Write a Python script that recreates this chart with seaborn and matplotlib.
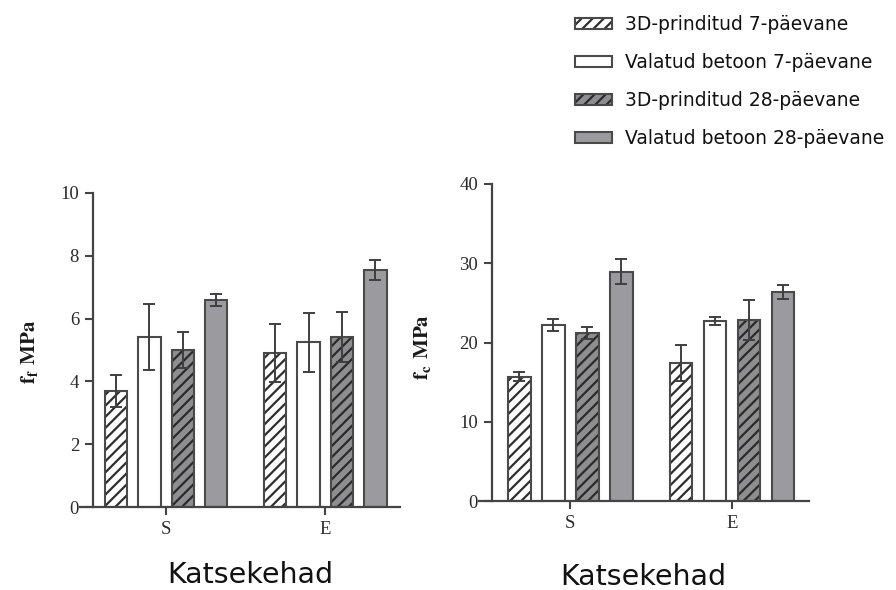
import matplotlib
matplotlib.use("Agg")
import matplotlib.pyplot as plt
import seaborn as sns
import pandas as pd

# ---- data ----
groups = ["S", "E"]
series = ["3D-prinditud 7-päevane", "Valatud betoon 7-päevane",
          "3D-prinditud 28-päevane", "Valatud betoon 28-päevane"]
ff_S = [3.70, 5.42, 5.00, 6.59]
ff_E = [4.91, 5.24, 5.42, 7.55]
ff_err_S = [0.50, 1.05, 0.58, 0.20]
ff_err_E = [0.92, 0.95, 0.80, 0.33]
fc_S = [15.7, 22.2, 21.2, 28.95]
fc_E = [17.4, 22.7, 22.8, 26.4]
fc_err_S = [0.6, 0.75, 0.7, 1.55]
fc_err_E = [2.3, 0.5, 2.5, 0.9]
ff_ticks = [0, 2, 4, 6, 8, 10]
fc_ticks = [0, 10, 20, 30, 40]
xlabel = "Katsekehad"

sns.set_style("ticks")
plt.rcParams["font.family"] = ["DejaVu Sans"]
plt.rcParams["hatch.linewidth"] = 1.6
plt.rcParams["mathtext.fontset"] = "stix"

W, H = 896, 590
fig = plt.figure(figsize=(W / 100, H / 100), dpi=100)

faces = ["#ffffff", "#ffffff", "#8e8e90", "#9b9b9f"]
hatches = ["///", "", "///", ""]
hatch_cols = ["#2e2e2e", "#2e2e2e", "#2a2a2a", "#2e2e2e"]
edge = "#4a4a4a"


def make_df(vS, vE):
    rows = []
    for g, vals in zip(groups, [vS, vE]):
        for s, v in zip(series, vals):
            rows.append({"group": g, "series": s, "value": v})
    return pd.DataFrame(rows)


def draw(ax, vS, vE, eS, eE, ticks, xlim):
    df = make_df(vS, vE)
    sns.barplot(data=df, x="group", y="value", hue="series", order=groups,
                hue_order=series, errorbar=None, width=0.84, gap=0.33,
                palette=dict(zip(series, faces)), legend=False, ax=ax)
    errs = {"S": eS, "E": eE}
    bar_conts = list(ax.containers)
    for i, cont in enumerate(bar_conts):
        for j, bar in enumerate(cont.patches):
            bar.set_facecolor(faces[i])
            bar.set_hatch(hatches[i])
            bar.set_edgecolor(edge)
            bar.set_linewidth(1.5)
            bar._hatch_color = matplotlib.colors.to_rgba(hatch_cols[i])
            xc = bar.get_x() + bar.get_width() / 2
            yv = bar.get_height()
            ax.errorbar(xc, yv, yerr=errs[groups[j]][i], fmt="none",
                        ecolor="#3f3f3f", elinewidth=1.4, capsize=4,
                        capthick=1.4, zorder=5)
    ax.set_ylim(ticks[0], ticks[-1])
    ax.set_yticks(ticks)
    ax.set_xlim(*xlim)
    ax.set_xlabel("")
    ax.set_ylabel("")
    for side in ["top", "right"]:
        ax.spines[side].set_visible(False)
    for side in ["left", "bottom"]:
        ax.spines[side].set_color("#444444")
        ax.spines[side].set_linewidth(1.6)
    ax.spines["bottom"].set_bounds(xlim[0] - 0.08, xlim[1])
    ax.tick_params(axis="both", length=6, width=1.5, color="#444444",
                   labelcolor="#2a2a2a", labelsize=13.5, pad=4)
    for lab in ax.get_xticklabels() + ax.get_yticklabels():
        lab.set_fontfamily("Liberation Serif")
    return bar_conts


ax1 = fig.add_axes([93 / W, 1 - 507 / H, (400 - 93) / W, (507 - 193) / H])
conts = draw(ax1, ff_S, ff_E, ff_err_S, ff_err_E, ff_ticks, (-0.46, 1.47))
ax2 = fig.add_axes([492 / W, 1 - 501 / H, (809 - 492) / W, (501 - 184) / H])
draw(ax2, fc_S, fc_E, fc_err_S, fc_err_E, fc_ticks, (-0.483, 1.475))

# y labels
fig.text(30 / W, 1 - 352 / H, r"$\mathbf{f_f}$ $\mathbf{MPa}$", rotation=90,
         ha="center", va="center", fontsize=15, color="#1a1a1a")
fig.text(422 / W, 1 - 347 / H, r"$\mathbf{f_c}$ $\mathbf{MPa}$", rotation=90,
         ha="center", va="center", fontsize=15, color="#1a1a1a")

# x labels
fig.text(250 / W, 1 - 575 / H, xlabel, ha="center", va="center",
         fontsize=20.5, color="#111111")
fig.text(643 / W, 1 - 577 / H, xlabel, ha="center", va="center",
         fontsize=20.5, color="#111111")

# legend
handles = [c.patches[0] for c in conts]
leg = fig.legend(handles, series, loc="upper left",
                 bbox_to_anchor=(575 / W, 1 - 15 / H), frameon=False,
                 fontsize=13.5, handlelength=1.95, handleheight=0.5,
                 handletextpad=0.7, labelspacing=1.02, borderpad=0,
                 borderaxespad=0)
for t in leg.get_texts():
    t.set_color("#111111")

fig.savefig("out.png", dpi=100)
